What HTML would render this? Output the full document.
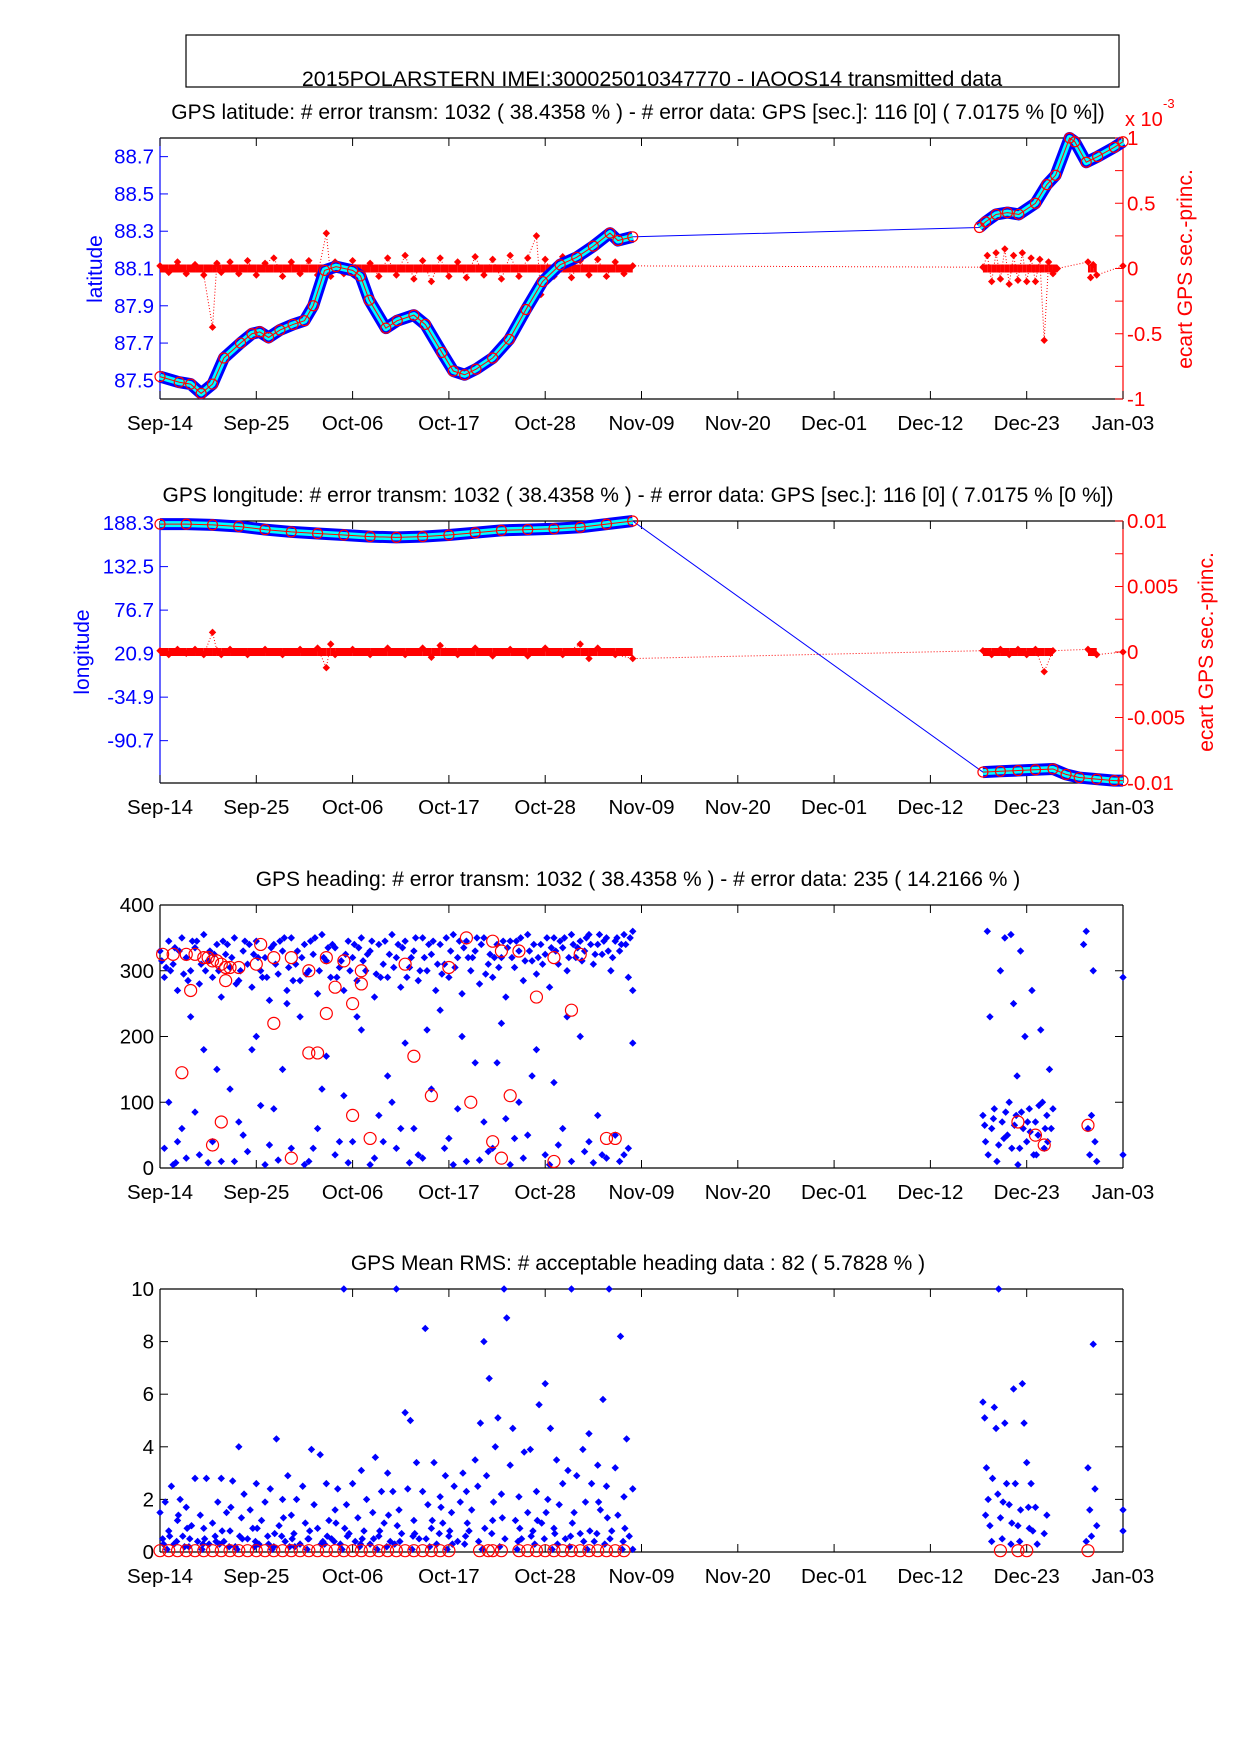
<!DOCTYPE html>
<html><head><meta charset="utf-8"><style>
body{margin:0;background:#fff}
svg{display:block;font-family:"Liberation Sans",Arial,sans-serif}
</style></head><body>
<svg id="fig" width="1242" height="1755" viewBox="0 0 1242 1755" xmlns="http://www.w3.org/2000/svg">
<rect x="186" y="35" width="933" height="52" fill="#fff" stroke="#000" stroke-width="1.2"/>
<text x="652" y="86" font-size="21.5" text-anchor="middle">2015POLARSTERN  IMEI:300025010347770  - IAOOS14 transmitted data</text>
</svg>
<script>
const tickLabels=["Sep-14","Sep-25","Oct-06","Oct-17","Oct-28","Nov-09","Nov-20","Dec-01","Dec-12","Dec-23","Jan-03"];
const latDays=[0,2.2,3.5,4.7,6.0,7.3,9.2,10.5,11.4,12.4,13.7,15.2,16.5,17.5,18.8,20.1,22.0,22.9,23.9,25.8,27.1,29.0,30.3,32.2,33.5,34.8,36.1,38.0,39.9,41.8,43.7,45.7,47.6,49.5,51.4,52.3,54.0,93.6,94.3,95.5,96.8,98.1,100.0,101.3,102.3,103.9,104.5,105.8,107.1,109.0,110];
const latVals=[87.52,87.49,87.48,87.43,87.48,87.62,87.70,87.75,87.76,87.73,87.77,87.80,87.82,87.90,88.09,88.11,88.09,88.06,87.93,87.78,87.82,87.85,87.80,87.65,87.55,87.53,87.56,87.62,87.72,87.88,88.03,88.12,88.16,88.22,88.29,88.25,88.27,88.32,88.35,88.39,88.40,88.39,88.45,88.55,88.60,88.80,88.78,88.67,88.70,88.75,88.78];
const latErr=[[0,0.02],[1,-0.03],[2,0.05],[3,-0.04],[4,0.03],[5,-0.05],[6,-0.45],[6.5,0.04],[7,-0.03],[8,0.05],[9,-0.04],[10,0.06],[11,-0.05],[12,0.04],[13,0.08],[14,-0.06],[15,0.05],[16,-0.04],[17,0.06],[18,-0.05],[19,0.27],[19.5,-0.06],[20,0.05],[21,-0.04],[22,0.06],[23,-0.05],[24,0.04],[25,-0.06],[26,0.08],[27,-0.05],[28,0.1],[29,-0.08],[30,0.06],[31,-0.1],[32,0.08],[33,-0.06],[34,0.05],[35,-0.07],[36,0.09],[37,-0.05],[38,0.07],[39,-0.08],[40,0.1],[41,-0.06],[42,0.08],[43,0.25],[43.5,-0.2],[44,0.07],[45,-0.06],[46,0.09],[47,-0.07],[48,0.06],[49,-0.05],[50,0.07],[51,-0.06],[52,0.05],[53,-0.04],[54,0.02],[94,0.01],[94.5,0.1],[95,-0.1],[95.5,0.12],[96,-0.08],[96.5,0.15],[97,-0.12],[97.5,0.1],[98,-0.09],[98.5,0.12],[99,-0.1],[99.5,0.08],[100,-0.1],[100.5,0.07],[101,-0.55],[101.5,0.05],[102,-0.04],[102.5,0],[106,0.05],[106.3,-0.07],[106.6,0.03],[107,-0.05],[110,0.02]];
const lonDays=[0,3,6,9,12,15,18,21,24,27,30,33,36,39,42,45,48,51,54,94,96,98,100,102,103.5,105,107,109,110];
const lonVals=[187,187,186,184,180,177,175,173,171,170,171,173,176,179,180,181,183,187,191,-131,-130,-129,-128,-127,-134,-138,-140,-142,-142];
const lonErr=[[0,0.1],[1,-0.2],[2,0.2],[3,-0.1],[4,0.2],[5,-0.2],[6,1.5],[6.5,0.1],[7,-0.2],[8,0.2],[10,-0.2],[12,0.2],[14,-0.2],[16,0.2],[18,0.3],[19,-1.2],[19.5,0.6],[20,-0.2],[22,0.2],[24,-0.2],[26,0.3],[28,-0.2],[30,0.3],[31,-0.4],[32,0.5],[34,-0.2],[36,0.3],[38,-0.3],[40,0.2],[42,-0.3],[44,0.3],[46,-0.2],[48,0.6],[49,-0.5],[50,0.3],[52,-0.2],[54,-0.5],[94,0.1],[95,-0.2],[96,0.2],[97,-0.2],[98,0.2],[99,-0.2],[100,0.2],[101,-1.5],[102,0.1],[106,0.2],[107,-0.2],[110,0]];
const headPts=[[0,330],[0.5,290],[1,345],[1.5,310],[2,270],[2.5,350],[3,320],[3.5,300],[4,335],[4.5,280],[5,355],[5.5,315],[6,290],[6.5,340],[7,260],[7.5,325],[8,305],[8.5,350],[9,285],[9.5,330],[10,310],[10.5,275],[11,345],[11.5,300],[12,320],[12.5,255],[13,340],[13.5,295],[14,330],[14.5,270],[15,350],[15.5,310],[16,285],[16.5,340],[17,300],[17.5,325],[18,265],[18.5,355],[19,315],[19.5,290],[20,335],[20.5,305],[21,270],[21.5,345],[22,320],[22.5,285],[23,350],[23.5,300],[24,330],[24.5,260],[25,340],[25.5,310],[26,290],[26.5,355],[27,320],[27.5,275],[28,345],[28.5,305],[29,330],[29.5,285],[30,350],[30.5,300],[31,325],[31.5,270],[32,340],[32.5,310],[33,290],[33.5,355],[34,320],[34.5,265],[35,345],[35.5,300],[36,330],[36.5,280],[37,350],[37.5,310],[38,290],[38.5,340],[39,320],[39.5,260],[40,345],[40.5,305],[41,330],[41.5,285],[42,355],[42.5,315],[43,295],[43.5,340],[44,325],[44.5,275],[45,350],[45.5,310],[46,335],[46.5,300],[47,355],[47.5,320],[48,345],[48.5,330],[49,355],[49.5,310],[50,340],[50.5,325],[51,350],[51.5,300],[52,345],[52.5,330],[53,355],[53.5,290],[54,360],[54,270],[0.2,315],[1.2,300],[2.2,330],[3.2,285],[4.2,345],[5.2,300],[6.2,325],[7.2,345],[8.2,320],[9.2,300],[10.2,340],[11.2,320],[12.2,290],[13.2,310],[14.2,350],[15.2,285],[16.2,320],[17.2,345],[18.2,300],[19.2,335],[20.2,290],[21.2,325],[22.2,340],[23.2,315],[24.2,345],[25.2,290],[26.2,325],[27.2,340],[28.2,290],[29.2,350],[30.2,320],[31.2,345],[32.2,295],[33.2,330],[34.2,345],[35.2,320],[36.2,350],[37.2,295],[38.2,320],[39.2,345],[40.2,320],[41.2,350],[42.2,330],[43.2,320],[44.2,350],[45.2,330],[46.2,350],[47.2,340],[48.2,315],[49.2,340],[50.2,355],[51.2,330],[52.2,350],[53.2,340],
[0.7,305],[1.7,335],[2.7,295],[3.7,345],[4.7,310],[5.7,330],[6.7,300],[7.7,340],[8.7,280],[9.7,345],[10.7,325],[11.7,290],[12.7,335],[13.7,345],[14.7,305],[15.7,330],[16.7,295],[17.7,350],[18.7,320],[19.7,340],[20.7,315],[21.7,300],[22.7,335],[23.7,325],[24.7,295],[25.7,345],[26.7,305],[27.7,335],[28.7,320],[29.7,300],[30.7,340],[31.7,310],[32.7,350],[33.7,305],[34.7,335],[35.7,320],[36.7,340],[37.7,325],[38.7,305],[39.7,335],[40.7,345],[41.7,315],[42.7,340],[43.7,310],[44.7,335],[45.7,345],[46.7,320],[47.7,335],[48.7,350],[49.7,325],[50.7,345],[51.7,320],[52.7,340],[53.7,350],
[0.5,30],[1,100],[1.5,5],[2.5,60],[3,15],[4,85],[5,180],[6,40],[7,10],[8,120],[9,70],[10,25],[11,200],[12,5],[13,90],[14,150],[15,30],[16,230],[17,10],[18,60],[19,170],[20,20],[21,110],[22,40],[23,210],[24,5],[25,80],[26,140],[27,30],[28,190],[29,60],[30,15],[31,120],[32,240],[33,45],[34,90],[35,10],[36,160],[37,70],[38,30],[39,220],[40,5],[41,100],[42,50],[43,180],[44,20],[45,130],[46,60],[47,10],[48,200],[49,40],[50,80],[51,15],[52,50],[53,20],[54,190],[1.8,8],[4.5,20],[8.5,10],[12.5,35],[16.5,5],[20.5,40],[24.5,15],[28.5,8],[32.5,30],[36.5,12],[40.5,45],[44.5,5],[48.5,25],[52.5,10],[6.5,150],[18.5,120],[26.5,100],[34.5,200],[42.5,140],[50.5,20],
[2,40],[5.5,8],[9.5,50],[13.5,12],[17.5,30],[21.5,8],[25.5,40],[29.5,20],[33.5,5],[37.5,25],[41.5,15],[45.5,35],[49.5,8],[53.5,30],[3.5,230],[10.5,180],[14.5,250],[22.5,230],[30.5,210],[38.5,160],[46.5,230],[11.5,95],[27.5,60],[39.5,75],
[94,80],[94.3,40],[94.6,20],[94.8,230],[95,60],[95.3,90],[95.6,10],[96,300],[96.2,70],[96.5,350],[96.8,50],[97,100],[97.3,30],[97.5,250],[97.8,80],[98,5],[98.3,330],[98.6,60],[98.8,200],[99,40],[99.3,90],[99.6,270],[99.8,20],[100,70],[100.3,50],[100.6,210],[100.8,100],[101,30],[101.3,80],[101.6,150],[101.8,60],[102,90],[94.5,360],[97.2,355],[95.2,75],[96.4,45],[97.6,65],[98.4,85],[99.4,55],[100.4,95],[101.4,40],[94.2,65],[95.8,35],[96.6,85],[98.2,30],[99.1,70],[100.1,20],[101.1,60],[97.9,140],
[105.5,340],[105.8,360],[106,60],[106.2,20],[106.4,80],[106.6,300],[106.8,40],[107,10],[110,290],[110,20]];
const headBad=[[0.3,325],[1.5,325],[3,325],[4,325],[5,320],[5.5,320],[6,315],[6.5,315],[7,310],[7.5,305],[8,305],[9,305],[11,310],[13,320],[15,320],[17,300],[19,320],[21,315],[23,300],[28,310],[33,305],[39,330],[41,330],[45,320],[48,325],[3.5,270],[7.5,285],[13,220],[19,235],[20,275],[22,250],[23,280],[43,260],[47,240],[2.5,145],[17,175],[18,175],[29,170],[31,110],[35.5,100],[40,110],[7,70],[6,35],[15,15],[22,80],[24,45],[38,40],[39,15],[45,10],[51,45],[52,45],[98,70],[100,50],[101,35],[106,65],[11.5,340],[35,350],[38,345]];
const rmsPts=[[0,1.5],[0.3,0.5],[0.6,1.9],[1,0.8],[1.3,2.5],[1.6,0.3],[2,1.2],[2.3,2.0],[2.6,0.6],[3,1.7],[3.3,0.2],[3.6,1.0],[4,2.8],[4.3,0.4],[4.6,1.4],[5,0.9],[5.3,2.8],[5.6,0.3],[6,1.1],[6.3,0.6],[6.6,1.9],[7,2.8],[7.3,0.4],[7.6,1.5],[8,0.8],[8.3,2.7],[8.6,0.2],[9,4.0],[9.3,1.3],[9.6,2.2],[10,0.5],[10.3,1.6],[10.6,0.9],[11,2.6],[11.3,0.3],[11.6,1.2],[12,1.9],[12.3,0.6],[12.6,2.4],[13,0.2],[13.3,4.3],[13.6,1.0],[14,2.0],[14.3,0.4],[14.6,2.9],[15,1.4],[15.3,0.7],[15.6,2.0],[16,0.3],[16.3,2.5],[16.6,1.1],[17,0.5],[17.3,3.9],[17.6,1.8],[18,0.9],[18.3,3.7],[18.6,0.4],[19,2.6],[19.3,1.2],[19.6,0.5],[20,1.6],[20.3,2.4],[20.6,0.3],[21,10],[21.3,1.8],[21.6,0.7],[22,2.6],[22.3,0.4],[22.6,1.3],[23,3.1],[23.3,0.8],[23.6,2.0],[24,0.3],[24.3,1.5],[24.6,3.6],[25,0.6],[25.3,2.3],[25.6,1.1],[26,3.0],[26.3,0.4],[26.6,2.3],[27,10],[27.3,1.6],[27.6,0.7],[28,5.3],[28.3,2.4],[28.6,5.0],[29,1.2],[29.3,3.4],[29.6,0.5],[30,2.3],[30.3,8.5],[30.6,1.8],[31,0.9],[31.3,3.4],[31.6,0.3],[32,2.1],[32.3,1.1],[32.6,2.9],[33,0.6],[33.3,1.5],[33.6,2.5],[34,0.4],[34.3,1.9],[34.6,3.0],[35,2.3],[35.3,0.8],[35.6,1.6],[36,3.5],[36.3,2.5],[36.6,4.9],[37,8.0],[37.3,2.9],[37.6,6.6],[38,1.2],[38.3,4.0],[38.6,5.1],[39,2.2],[39.3,10],[39.6,8.9],[40,3.3],[40.3,4.7],[40.6,1.2],[41,2.1],[41.3,0.5],[41.6,3.8],[42,1.5],[42.3,3.9],[42.6,0.8],[43,2.3],[43.3,5.6],[43.6,1.1],[44,6.4],[44.3,2.0],[44.6,4.7],[45,0.9],[45.3,3.5],[45.6,1.8],[46,2.6],[46.3,0.5],[46.6,3.1],[47,10],[47.3,1.5],[47.6,2.9],[48,0.7],[48.3,3.9],[48.6,1.9],[49,4.5],[49.3,2.6],[49.6,0.4],[50,3.3],[50.3,1.6],[50.6,5.8],[51,2.5],[51.3,10],[51.6,0.8],[52,3.2],[52.3,1.4],[52.6,8.2],[53,2.1],[53.3,4.3],[53.6,0.6],[54,2.4],[54,0.1],
[0.8,0.1],[2.8,0.2],[4.8,0.1],[6.8,0.3],[8.8,0.1],[10.8,0.2],[12.8,0.1],[14.8,0.2],[16.8,0.1],[18.8,0.3],[20.8,0.1],[22.8,0.2],[24.8,0.1],[26.8,0.3],[28.8,0.1],[30.8,0.2],[32.8,0.1],[34.8,0.3],[36.8,0.1],[38.8,0.2],[40.8,0.1],[42.8,0.3],[44.8,0.1],[46.8,0.2],[48.8,0.1],[50.8,0.3],[52.8,0.1],[1.1,0.6],[3.1,0.9],[5.1,0.5],[7.1,0.8],[9.1,0.6],[11.1,0.9],[13.1,0.7],[15.1,0.5],[17.1,0.8],[19.1,0.6],[21.1,0.9],[23.1,0.5],[25.1,0.8],[27.1,1.0],[29.1,0.7],[31.1,1.2],[33.1,0.8],[35.1,1.1],[37.1,0.9],[39.1,1.3],[41.1,0.9],[43.1,1.2],[45.1,0.7],[47.1,1.1],[49.1,0.8],[51.1,1.3],[53.1,0.9],
[0.4,0.3],[1.9,0.4],[3.4,0.5],[4.9,0.3],[6.4,0.4],[7.9,0.2],[9.4,0.5],[10.9,0.4],[12.4,0.3],[13.9,0.6],[15.4,0.2],[16.9,0.5],[18.4,0.3],[19.9,0.4],[21.4,0.6],[22.9,0.3],[24.4,0.5],[25.9,0.2],[27.4,0.4],[28.9,0.6],[30.4,0.5],[31.9,0.7],[33.4,0.3],[34.9,0.6],[36.4,0.4],[37.9,0.7],[39.4,0.5],[40.9,0.4],[42.4,0.6],[43.9,0.5],[45.4,0.3],[46.9,0.6],[48.4,0.4],[49.9,0.7],[51.4,0.5],[52.9,0.4],[2.1,1.4],[8.1,1.7],[14.1,1.3],[20.1,1.1],[26.1,1.4],[32.1,1.7],[38.1,1.9],[44.1,1.5],[50.1,1.9],
[94,5.7],[94.2,5.1],[94.4,3.2],[94.6,2.0],[94.8,1.0],[95,0.4],[95.3,5.5],[95.5,4.7],[95.7,2.2],[96,1.3],[96.2,0.5],[96.5,4.9],[96.7,2.6],[97,1.8],[97.2,0.3],[97.5,6.2],[97.7,2.6],[98,1.0],[98.2,0.4],[98.5,6.4],[98.7,4.9],[99,3.4],[99.2,1.7],[99.5,2.6],[99.7,0.8],[100,1.7],[100.2,0.3],[95.8,10],[94.3,1.4],[95.1,2.8],[96.3,1.9],[97.3,1.1],[98.3,1.6],[99.3,0.9],[101,0.7],[101.3,1.4],[106,3.2],[106.2,1.6],[106.4,0.6],[106.6,7.9],[106.8,2.4],[107,1.0],[105.8,0.4],[110,1.6],[110,0.8]];
const rmsBad=[0,1,2,3,4,5,6,7,8,9,10,11,12,13,14,15,16,17,18,19,20,21,22,23,24,25,26,27,28,29,30,31,32,33,36.5,37.5,38,39,41,42,43,44,45,46,47,48,49,50,51,52,53,96,98,99,106];
const latTicks=[87.5,87.7,87.9,88.1,88.3,88.5,88.7];
const errTicks=[-1,-0.5,0,0.5,1];
const lonTicks=[-90.7,-34.9,20.9,76.7,132.5,188.3];
const lonErrTicks=[-10,-5,0,5,10];
const lonErrLabels=["-0.01","-0.005","0","0.005","0.01"];
const headTicks=[0,100,200,300,400];
const rmsTicks=[0,2,4,6,8,10];

const svg=document.getElementById('fig');
const NS='http://www.w3.org/2000/svg';
const X0=160,X1=1123;
function mk(tag,attrs,parent){const e=document.createElementNS(NS,tag);for(const k in attrs)e.setAttribute(k,attrs[k]);(parent||svg).appendChild(e);return e;}
function sx(d){return X0+(d/110)*(X1-X0);}
function scaleY(y0,y1,lo,hi){return v=>y1-(v-lo)/(hi-lo)*(y1-y0);}
function txt(x,y,s,attrs,name){const t=mk('text',Object.assign({x:x,y:y,'font-size':20.5},attrs));t.textContent=s;


return t;}
function frame(y0,y1,name,title,leftCol,rightCol){
  const g=mk('g',{});
  
  
  mk('line',{x1:X0,y1:y0,x2:X1,y2:y0,stroke:'#000','stroke-width':1.2},g);
  mk('line',{x1:X0,y1:y1,x2:X1,y2:y1,stroke:'#000','stroke-width':1.2},g);
  mk('line',{x1:X0,y1:y0,x2:X0,y2:y1,stroke:leftCol,'stroke-width':1.2},g);
  mk('line',{x1:X1,y1:y0,x2:X1,y2:y1,stroke:rightCol,'stroke-width':1.2},g);
  tickLabels.forEach((l,i)=>{const x=sx(i*11);
    mk('line',{x1:x,y1:y1,x2:x,y2:y1-8,stroke:'#000'},g);
    mk('line',{x1:x,y1:y0,x2:x,y2:y0+8,stroke:'#000'},g);
    txt(x,y1+31,l,{'text-anchor':'middle'},'x-tick-label');});
  txt(638,y0-19,title,{'text-anchor':'middle','font-size':21},'panel-title');
  return g;
}
function leftTicks(g,y,ticks,labels,col,right){
  ticks.forEach((t,i)=>{const yy=y(t);
    mk('line',{x1:X0,y1:yy,x2:X0+8,y2:yy,stroke:col},g);
    if(right!==false) mk('line',{x1:X1,y1:yy,x2:X1-8,y2:yy,stroke:right||col},g);
    txt(X0-6,yy+7,labels?labels[i]:String(t),{'text-anchor':'end',fill:col},'y-tick-label');});
}
function rightTicks(g,y,ticks,labels,col){
  ticks.forEach((t,i)=>{const yy=y(t);
    mk('line',{x1:X1,y1:yy,x2:X1-8,y2:yy,stroke:col},g);
    txt(X1+4,yy+7,labels[i],{'text-anchor':'start',fill:col},'y2-tick-label');});
}
function diamond(g,x,y,col,name){const r=mk('path',{d:`M${x-3},${y}L${x},${y-3}L${x+3},${y}L${x},${y+3}Z`,fill:col,stroke:col,'stroke-width':1},g);

}
function traj(g,days,vals,y,name){
  const pts=days.map((d,i)=>sx(d)+','+y(vals[i])).join(' ');
  const segs=[[]];
  days.forEach((d,i)=>{if(i>0&&d-days[i-1]>10)segs.push([]);segs[segs.length-1].push(sx(d)+','+y(vals[i]));});
  mk('polyline',{points:pts,fill:'none',stroke:'#00f','stroke-width':1},g);
  segs.forEach(s=>{mk('polyline',{points:s.join(' '),fill:'none',stroke:'#00f','stroke-width':12,'stroke-linejoin':'round'},g);});
  segs.forEach(s=>{mk('polyline',{points:s.join(' '),fill:'none',stroke:'#0ff','stroke-width':6,'stroke-linejoin':'round'},g);
    mk('polyline',{points:s.join(' '),fill:'none',stroke:'#f00','stroke-width':1},g);});
  days.forEach((d,i)=>{const c=mk('circle',{cx:sx(d),cy:y(vals[i]),r:5,fill:'none',stroke:'#f00','stroke-width':1.2},g);
    
    });
}
function errSeries(g,arr,y,name){
  mk('polyline',{points:arr.map(p=>sx(p[0])+','+y(p[1])).join(' '),fill:'none',stroke:'#f00','stroke-width':1,'stroke-dasharray':'1,2'},g);
  arr.forEach((p,i)=>{if(i>0&&p[0]-arr[i-1][0]<3){mk('line',{x1:sx(arr[i-1][0]),y1:y(0),x2:sx(p[0]),y2:y(0),stroke:'#f00','stroke-width':8},g);}});
  arr.forEach(p=>diamond(g,sx(p[0]),y(p[1]),'#f00',name));
}
// Panel 1 latitude
(function(){const y0=138,y1=399;const g=frame(y0,y1,'latitude-panel','GPS latitude: # error transm: 1032  ( 38.4358 % ) - # error data: GPS [sec.]: 116 [0]  ( 7.0175 % [0 %])','#00f','#f00');
 const yl=scaleY(y0,y1,87.40,88.80), yr=scaleY(y0,y1,-1,1);
 leftTicks(g,yl,latTicks,null,'#00f',false);
 rightTicks(g,yr,errTicks,['-1','-0.5','0','0.5','1'],'#f00');
 [-0.75,-0.25,0.25,0.75].forEach(t=>mk('line',{x1:X1,y1:yr(t),x2:X1-8,y2:yr(t),stroke:'#f00'},g));
 errSeries(g,latErr,yr,'latitude-error-point');
 traj(g,latDays,latVals,yl,'latitude-point');
 txt(1125,126,'x 10',{fill:'#f00','font-size':20},'y2-exponent');
 txt(1163,108,'-3',{fill:'#f00','font-size':13},'y2-exponent-power');
 txt(0,0,'latitude',{fill:'#00f','font-size':21,'text-anchor':'middle',transform:'translate(102,269) rotate(-90)'},'y-axis-title');
 txt(0,0,'ecart GPS sec.-princ.',{fill:'#f00','font-size':21,'text-anchor':'middle',transform:'translate(1192,269) rotate(-90)'},'y2-axis-title');
})();
// Panel 2 longitude
(function(){const y0=521,y1=783;const g=frame(y0,y1,'longitude-panel','GPS longitude: # error transm: 1032  ( 38.4358 % ) - # error data: GPS [sec.]: 116 [0]  ( 7.0175 % [0 %])','#00f','#f00');
 const yl=scaleY(y0,y1,-145,191), yr=scaleY(y0,y1,-10,10);
 leftTicks(g,yl,lonTicks,null,'#00f',false);
 rightTicks(g,yr,lonErrTicks,lonErrLabels,'#f00');
 [-7.5,-2.5,2.5,7.5].forEach(t=>mk('line',{x1:X1,y1:yr(t),x2:X1-8,y2:yr(t),stroke:'#f00'},g));
 errSeries(g,lonErr,yr,'longitude-error-point');
 traj(g,lonDays,lonVals,yl,'longitude-point');
 txt(0,0,'longitude',{fill:'#00f','font-size':21,'text-anchor':'middle',transform:'translate(89,652) rotate(-90)'},'y-axis-title');
 txt(0,0,'ecart GPS sec.-princ.',{fill:'#f00','font-size':21,'text-anchor':'middle',transform:'translate(1213,652) rotate(-90)'},'y2-axis-title');
})();
// Panel 3 heading
(function(){const y0=905,y1=1168;const g=frame(y0,y1,'heading-panel','GPS heading: # error transm: 1032  ( 38.4358 % ) - # error data: 235   ( 14.2166 % )','#000','#000');
 const y=scaleY(y0,y1,0,400);
 leftTicks(g,y,headTicks,null,'#000','#000');
 headPts.forEach(p=>diamond(g,sx(p[0]),y(p[1]),'#00f','heading-point'));
 headBad.forEach(p=>{const c=mk('circle',{cx:sx(p[0]),cy:y(p[1]),r:6,fill:'none',stroke:'#f00','stroke-width':1.2},g);
   
   });
})();
// Panel 4 RMS
(function(){const y0=1289,y1=1552;const g=frame(y0,y1,'rms-panel','GPS Mean RMS: # acceptable heading data : 82    ( 5.7828 % )','#000','#000');
 const y=scaleY(y0,y1,0,10);
 leftTicks(g,y,rmsTicks,null,'#000','#000');
 rmsPts.forEach(p=>diamond(g,sx(p[0]),y(p[1]),'#00f','rms-point'));
 rmsBad.forEach(d=>{const c=mk('circle',{cx:sx(d),cy:y(0.05),r:6,fill:'none',stroke:'#f00','stroke-width':1.2},g);
   
   });
})();
</script>
</body></html>
